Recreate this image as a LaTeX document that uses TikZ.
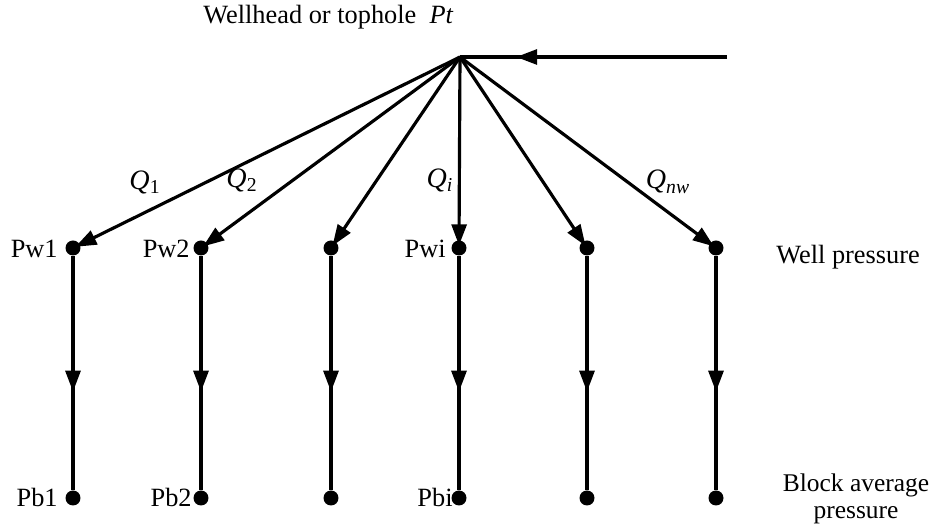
\documentclass[tikz,border=0pt]{standalone}
\usepackage{fontspec}
\setmainfont{Liberation Serif}
\usetikzlibrary{arrows.meta,decorations.markings}
\begin{document}
\begin{tikzpicture}[x=0.02cm,y=-0.02cm,
  conn/.style={line width=1.8pt},
  dot/.style={circle,fill=black,inner sep=0pt,minimum size=0.3cm},
  lbl/.style={font=\fontsize{15}{17}\selectfont,inner sep=0pt},
  flow/.style={conn,-{Triangle[length=12pt,width=8.5pt]},shorten >=-3pt},
  midarrow/.style={conn,postaction=decorate,decoration={markings,
      mark=at position #1 with {\arrow{Triangle[length=12pt,width=8.5pt]}}}}
]
\useasboundingbox (0,0) rectangle (938,526);
\fill[white] (0,0) rectangle (938,526);

\coordinate (hub) at (460,57);
\coordinate (src) at (727,57);
\node[lbl,anchor=base west] (title) at (203,24) {Wellhead or tophole\enspace\textit{Pt}};

\foreach \i/\x in {1/73,2/201,3/331,4/459,5/587,6/716}{
  \node[dot] (w\i) at (\x,248) {};
  \node[dot] (b\i) at (\x,498) {};
}

\draw[midarrow=0.79] (src) -- (hub);
\foreach \i in {1,...,6}{
  \draw[flow] (hub) -- (w\i);
  \draw[midarrow=0.58] (w\i) -- (b\i);
}

\node[lbl,anchor=base east] (pw1) at (58,258) {Pw1};
\node[lbl,anchor=base east] (pw2) at (190,258) {Pw2};
\node[lbl,anchor=base east] (pwi) at (446,258) {Pwi};
\node[lbl,anchor=base east] (pb1) at (58,507) {Pb1};
\node[lbl,anchor=base east] (pb2) at (192,507) {Pb2};
\node[lbl,anchor=base east] (pbi) at (453,507) {Pbi};

\node[lbl,anchor=base west] (wp) at (776,264) {Well pressure};
\node[lbl,align=center,font=\fontsize{14.5}{15.5}\selectfont] (ba) at (856,499) {Block average\\pressure};

\node[lbl] (q1) at (145,182) {\fontsize{16}{18}\selectfont\textit{Q}\textsubscript{1}};
\node[lbl] (q2) at (242,180) {\fontsize{16}{18}\selectfont\textit{Q}\textsubscript{2}};
\node[lbl] (qi) at (440,180) {\fontsize{16}{18}\selectfont\textit{Q}\textsubscript{\textit{i}}};
\node[lbl] (qn) at (668,182) {\fontsize{16}{18}\selectfont\textit{Q}\textsubscript{\textit{nw}}};
\end{tikzpicture}
\end{document}
